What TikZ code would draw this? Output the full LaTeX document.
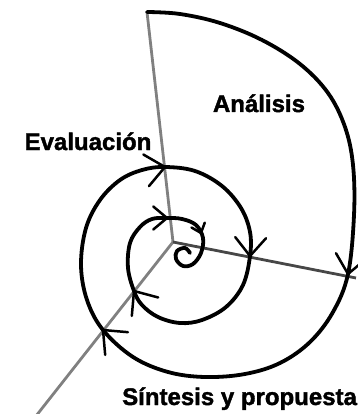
\documentclass[tikz,border=0pt]{standalone}
\usepackage{fontspec}
\setmainfont{Liberation Sans}[BoldFeatures={FakeBold=1.6}]
\usetikzlibrary{calc}
\newcommand\Vhead[3]{\draw[vtip] ($(#1)+(#2+140:#3)$) -- (#1) -- ($(#1)+(#2+220:#3)$);}
\begin{document}
\begin{tikzpicture}[x=1pt,y=-1pt,
  spiral/.style={line width=3.8pt, black, line join=round, line cap=round},
  ray/.style={line width=2.8pt, black!50},
  darkray/.style={line width=2.8pt, black!72},
  lbl/.style={font=\bfseries\fontsize{24}{28}\selectfont, inner sep=0pt},
  vtip/.style={line width=2.5pt, black, line cap=round, line join=miter}]
\useasboundingbox (0,0) rectangle (357,414);
\coordinate (O) at (173,242);
\coordinate (T) at (147,12);
\coordinate (R) at (356,278);
\coordinate (L) at (36,416);
\draw[ray] (O) -- (T);
\draw[ray] (O) -- (L);
\draw[darkray] (O) -- (R);
\draw[spiral] plot[smooth, tension=0.6] coordinates {
 (147,12) (180,14) (220,23) (262,40) (300,64) (328,93) (345,127) (353,165)
 (354,215) (348,274) (333,312) (310,342) (280,363) (245,374) (205,377)
 (168,372) (133,357) (103,330) (87,300) (81,265) (86,228) (100,200)
 (120,180) (142,170) (165,167) (195,171) (222,186) (241,208) (250,232)
 (250,256) (243,285) (226,307) (202,320) (180,323) (158,317) (142,305)
 (134,291) (128,268) (130,243) (140,227) (152,219) (167,218) (182,219)
 (196,225) (203,238) (201,253) (193,264) (183,266) (176,259) (177,251)
 (185,248) (190,253)};
\coordinate (a1) at (348,274);
\coordinate (a2) at (250,256);
\coordinate (a3) at (103,330);
\coordinate (a4) at (134,291);
\coordinate (a5) at (165,167);
\coordinate (a6) at (167,218);
\coordinate (a7) at (201,233);
\Vhead{a1}{100}{24}
\Vhead{a2}{92}{24}
\Vhead{a3}{225}{25}
\Vhead{a4}{235}{25}
\Vhead{a5}{350}{25}
\Vhead{a6}{0}{18}
\Vhead{a7}{70}{11}
\node[lbl, anchor=base] (an) at (259,112) {Análisis};
\node[lbl, anchor=base] (ev) at (88,150) {Evaluación};
\node[lbl, anchor=base west] (si) at (122,405) {Síntesis y propuesta};
\end{tikzpicture}
\end{document}
